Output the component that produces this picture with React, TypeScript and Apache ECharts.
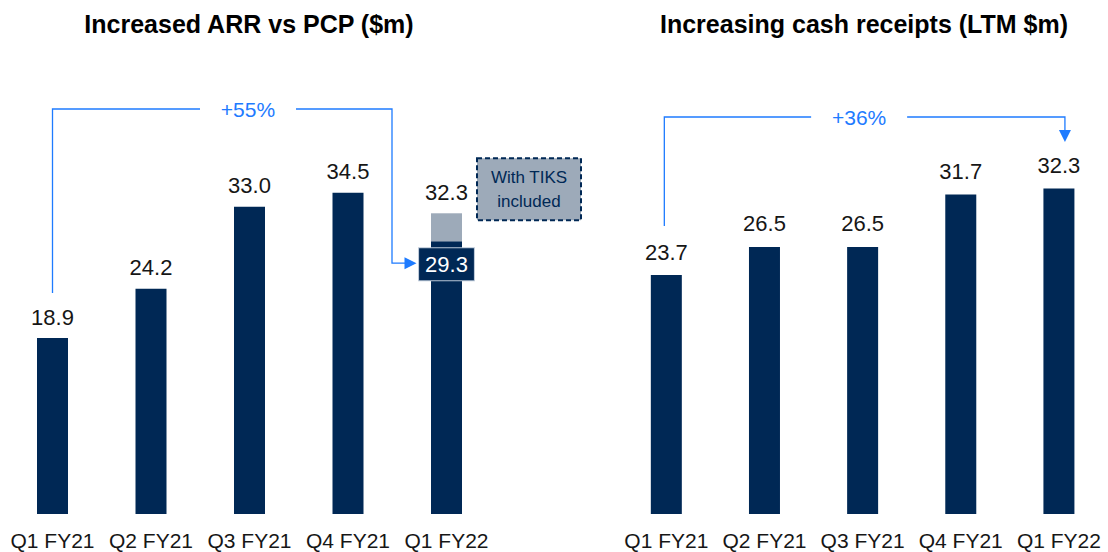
import React, { useEffect, useRef } from "react";
import * as echarts from "echarts";

const categories = ["Q1 FY21", "Q2 FY21", "Q3 FY21", "Q4 FY21", "Q1 FY22"];
const arrValues = [18.9, 24.2, 33.0, 34.5, 29.3];
const arrWithTiks: (number | null)[] = [null, null, null, null, 32.3];
const cashReceipts = [23.7, 26.5, 26.5, 31.7, 32.3];
const arrGrowth = "+55%";
const cashGrowth = "+36%";
const tiksNote = "With TIKS\nincluded";
const leftTitle = "Increased ARR vs PCP ($m)";
const rightTitle = "Increasing cash receipts (LTM $m)";

const NAVY = "#002855";
const GREY = "#9DAAB9";
const BLUE = "#1E7BFF";
const TXT = "#161616";
const FONT = "Arial, 'Liberation Sans', sans-serif";

export default function App() {
  const ref = useRef<HTMLDivElement>(null);
  useEffect(() => {
    if (!ref.current) return;
    const chart = echarts.init(ref.current, undefined, { renderer: "svg" });
    const lastIdx = arrValues.length - 1;
    const valueLabel = {
      show: true,
      position: "top",
      distance: 10,
      fontSize: 22,
      color: TXT,
      fontFamily: FONT,
      formatter: (p: any) => Number(p.value).toFixed(1),
    };
    const xAxisBase = {
      type: "category",
      data: categories,
      axisLine: { show: false },
      axisTick: { show: false },
      axisLabel: { interval: 0, hideOverlap: false, fontSize: 21, color: TXT, fontFamily: FONT, margin: 16 },
    };
    chart.setOption({
      animation: false,
      grid: [
        { left: 3.25, width: 492.5, top: 48.5, height: 465.5 },
        { left: 617.25, width: 492.5, top: 60.4, height: 453.6 },
      ],
      xAxis: [
        { ...xAxisBase, gridIndex: 0 },
        { ...xAxisBase, gridIndex: 1 },
      ],
      yAxis: [
        { type: "value", gridIndex: 0, min: 0, max: 50, show: false, splitLine: { show: false } },
        { type: "value", gridIndex: 1, min: 0, max: 45, show: false, splitLine: { show: false } },
      ],
      series: [
        {
          type: "bar",
          name: "ARR",
          xAxisIndex: 0,
          yAxisIndex: 0,
          stack: "arr",
          barWidth: 31,
          itemStyle: { color: NAVY },
          label: valueLabel,
          data: arrValues.map((v, i) =>
            arrWithTiks[i] != null
              ? {
                  value: v,
                  label: {
                    show: true,
                    position: "insideTop",
                    distance: 7,
                    color: "#ffffff",
                    fontSize: 22,
                    fontFamily: FONT,
                    backgroundColor: NAVY,
                    borderColor: "#b9c6d6",
                    borderWidth: 1,
                    padding: [4, 6, 4, 6],
                    lineHeight: 24,
                  },
                }
              : v
          ),
        },
        {
          type: "bar",
          name: "TIKS",
          xAxisIndex: 0,
          yAxisIndex: 0,
          stack: "arr",
          barWidth: 31,
          itemStyle: { color: GREY },
          label: {
            ...valueLabel,
            formatter: (p: any) => {
              const t = arrWithTiks[p.dataIndex];
              return t == null ? "" : t.toFixed(1);
            },
          },
          data: arrWithTiks.map((t, i) => (t == null ? null : t - arrValues[i])),
        },
        {
          type: "bar",
          name: "Cash",
          xAxisIndex: 1,
          yAxisIndex: 1,
          barWidth: 31,
          itemStyle: { color: NAVY },
          label: { ...valueLabel, distance: 12 },
          data: cashReceipts,
        },
      ],
    });

    const pL = (i: number, v: number) =>
      chart.convertToPixel({ xAxisIndex: 0, yAxisIndex: 0 }, [i, v]) as number[];
    const pR = (i: number, v: number) =>
      chart.convertToPixel({ xAxisIndex: 1, yAxisIndex: 1 }, [i, v]) as number[];

    const lineStyle = { stroke: BLUE, lineWidth: 1.3, fill: null };

    // Left bracket
    const l0 = pL(0, arrValues[0]);
    const l2 = pL(2, 0);
    const l4 = pL(lastIdx, arrValues[lastIdx]);
    const lt = pL(lastIdx, arrWithTiks[lastIdx] as number);
    const lY = 109;
    const lTextX = l2[0] - 1.5;
    const lRightX = l4[0] - 54.5;
    const lArrowY = l4[1] + 22;
    const lTip = l4[0] - 30;

    // Right bracket
    const r0 = pR(0, cashReceipts[0]);
    const r2 = pR(2, 0);
    const r4 = pR(lastIdx, cashReceipts[lastIdx]);
    const rY = 117;
    const rTextX = r2[0] - 3.5;
    const rX0 = r0[0] - 2;
    const rRightX = r4[0] + 6;
    const rTipY = 142;

    chart.setOption({
      graphic: [
        {
          type: "text",
          x: 249,
          y: 24,
          style: { text: leftTitle, fill: "#000", font: `bold 25px ${FONT}`, align: "center", verticalAlign: "middle" },
        },
        {
          type: "text",
          x: 864,
          y: 24,
          style: { text: rightTitle, fill: "#000", font: `bold 25px ${FONT}`, align: "center", verticalAlign: "middle" },
        },
        // left bracket lines
        {
          type: "polyline",
          shape: { points: [[l0[0], l0[1] - 45], [l0[0], lY], [lTextX - 48, lY]] },
          style: lineStyle,
        },
        {
          type: "polyline",
          shape: { points: [[lTextX + 48, lY], [lRightX, lY], [lRightX, lArrowY], [lTip - 10, lArrowY]] },
          style: lineStyle,
        },
        {
          type: "polygon",
          shape: { points: [[lTip - 12, lArrowY - 6], [lTip, lArrowY], [lTip - 12, lArrowY + 6]] },
          style: { fill: BLUE },
        },
        {
          type: "text",
          x: lTextX,
          y: lY,
          style: { text: arrGrowth, fill: BLUE, font: `21px ${FONT}`, align: "center", verticalAlign: "middle" },
        },
        // right bracket lines
        {
          type: "polyline",
          shape: { points: [[rX0, r0[1] - 49], [rX0, rY], [rTextX - 48, rY]] },
          style: lineStyle,
        },
        {
          type: "polyline",
          shape: { points: [[rTextX + 48, rY], [rRightX, rY], [rRightX, rTipY - 10]] },
          style: lineStyle,
        },
        {
          type: "polygon",
          shape: { points: [[rRightX - 6, rTipY - 12], [rRightX, rTipY], [rRightX + 6, rTipY - 12]] },
          style: { fill: BLUE },
        },
        {
          type: "text",
          x: rTextX,
          y: rY,
          style: { text: cashGrowth, fill: BLUE, font: `21px ${FONT}`, align: "center", verticalAlign: "middle" },
        },
        // TIKS note box
        {
          type: "rect",
          shape: { x: lt[0] + 30.5, y: lt[1] - 55, width: 104, height: 62 },
          style: { fill: GREY, stroke: NAVY, lineWidth: 2, lineDash: [5, 3] },
        },
        {
          type: "text",
          x: lt[0] + 30.5 + 52,
          y: lt[1] - 55 + 31,
          style: {
            text: tiksNote,
            fill: NAVY,
            font: `17px ${FONT}`,
            lineHeight: 24,
            align: "center",
            verticalAlign: "middle",
          },
        },
      ],
    });
    return () => chart.dispose();
  }, []);
  return (
    <div
      ref={ref}
      style={{ position: "fixed", left: 0, top: 0, width: 1108, height: 552, background: "#fff" }}
    />
  );
}
